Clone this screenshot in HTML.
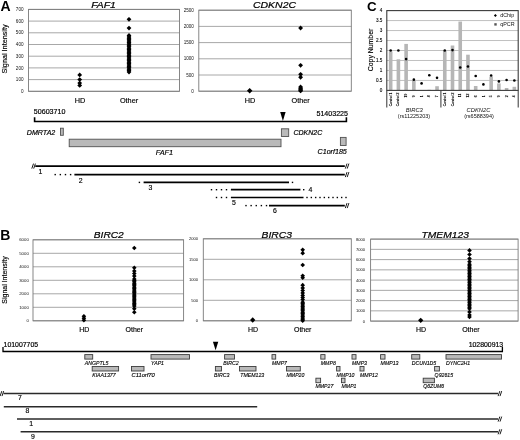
<!DOCTYPE html>
<html><head><meta charset="utf-8"><title>Figure</title>
<style>html,body{margin:0;padding:0;background:#fff}svg{display:block;filter:blur(0.4px)}</style></head>
<body>
<svg width="520" height="440" viewBox="0 0 520 440" font-family="Liberation Sans, Arial, sans-serif">
<rect width="520" height="440" fill="#fff"/>
<text x="0.6" y="11.4" font-size="14" text-anchor="start" font-weight="bold" fill="#000" >A</text>
<text x="0.3" y="240.2" font-size="14" text-anchor="start" font-weight="bold" fill="#000" >B</text>
<text x="367" y="10.7" font-size="13.4" text-anchor="start" font-weight="bold" fill="#000" >C</text>
<line x1="28.5" y1="91.30" x2="179.5" y2="91.30" stroke="#9e9e9e" stroke-width="0.9"/>
<text x="23.5" y="92.96" font-size="4.6" text-anchor="end" fill="#111" >0</text>
<line x1="28.5" y1="79.60" x2="179.5" y2="79.60" stroke="#9e9e9e" stroke-width="0.9"/>
<text x="23.5" y="81.26" font-size="4.6" text-anchor="end" fill="#111" >100</text>
<line x1="28.5" y1="67.90" x2="179.5" y2="67.90" stroke="#9e9e9e" stroke-width="0.9"/>
<text x="23.5" y="69.56" font-size="4.6" text-anchor="end" fill="#111" >200</text>
<line x1="28.5" y1="56.20" x2="179.5" y2="56.20" stroke="#9e9e9e" stroke-width="0.9"/>
<text x="23.5" y="57.86" font-size="4.6" text-anchor="end" fill="#111" >300</text>
<line x1="28.5" y1="44.50" x2="179.5" y2="44.50" stroke="#9e9e9e" stroke-width="0.9"/>
<text x="23.5" y="46.16" font-size="4.6" text-anchor="end" fill="#111" >400</text>
<line x1="28.5" y1="32.80" x2="179.5" y2="32.80" stroke="#9e9e9e" stroke-width="0.9"/>
<text x="23.5" y="34.46" font-size="4.6" text-anchor="end" fill="#111" >500</text>
<line x1="28.5" y1="21.10" x2="179.5" y2="21.10" stroke="#9e9e9e" stroke-width="0.9"/>
<text x="23.5" y="22.76" font-size="4.6" text-anchor="end" fill="#111" >600</text>
<line x1="28.5" y1="9.40" x2="179.5" y2="9.40" stroke="#9e9e9e" stroke-width="0.9"/>
<text x="23.5" y="11.06" font-size="4.6" text-anchor="end" fill="#111" >700</text>
<rect x="28.5" y="9.4" width="151.0" height="81.89999999999999" fill="none" stroke="#7a7a7a" stroke-width="0.9"/>
<text x="103.5" y="8.2" font-size="9.9" text-anchor="middle" font-style="italic" fill="#000" textLength="24.6" lengthAdjust="spacingAndGlyphs" stroke="#000" stroke-width="0.22">FAF1</text>
<text x="80" y="103" font-size="7.3" text-anchor="middle" fill="#000" stroke="#000" stroke-width="0.15">HD</text>
<text x="129" y="103" font-size="7.3" text-anchor="middle" fill="#000" stroke="#000" stroke-width="0.15">Other</text>
<path d="M77.30 74.92L79.70 72.52L82.10 74.92L79.70 77.32Z" fill="#000"/>
<path d="M77.30 79.60L79.70 77.20L82.10 79.60L79.70 82.00Z" fill="#000"/>
<path d="M77.30 83.11L79.70 80.71L82.10 83.11L79.70 85.51Z" fill="#000"/>
<path d="M77.30 85.45L79.70 83.05L82.10 85.45L79.70 87.85Z" fill="#000"/>
<path d="M126.60 19.35L129.00 16.95L131.40 19.35L129.00 21.75Z" fill="#000"/>
<path d="M126.60 28.12L129.00 25.72L131.40 28.12L129.00 30.52Z" fill="#000"/>
<path d="M126.60 72.00L129.00 69.59L131.40 72.00L129.00 74.40Z" fill="#000"/>
<path d="M126.60 70.59L129.00 68.19L131.40 70.59L129.00 72.99Z" fill="#000"/>
<path d="M126.60 69.19L129.00 66.79L131.40 69.19L129.00 71.59Z" fill="#000"/>
<path d="M126.60 67.78L129.00 65.38L131.40 67.78L129.00 70.18Z" fill="#000"/>
<path d="M126.60 66.38L129.00 63.98L131.40 66.38L129.00 68.78Z" fill="#000"/>
<path d="M126.60 64.97L129.00 62.57L131.40 64.97L129.00 67.38Z" fill="#000"/>
<path d="M126.60 63.57L129.00 61.17L131.40 63.57L129.00 65.97Z" fill="#000"/>
<path d="M126.60 62.17L129.00 59.77L131.40 62.17L129.00 64.57Z" fill="#000"/>
<path d="M126.60 60.76L129.00 58.36L131.40 60.76L129.00 63.16Z" fill="#000"/>
<path d="M126.60 59.36L129.00 56.96L131.40 59.36L129.00 61.76Z" fill="#000"/>
<path d="M126.60 57.96L129.00 55.56L131.40 57.96L129.00 60.36Z" fill="#000"/>
<path d="M126.60 56.55L129.00 54.15L131.40 56.55L129.00 58.95Z" fill="#000"/>
<path d="M126.60 55.15L129.00 52.75L131.40 55.15L129.00 57.55Z" fill="#000"/>
<path d="M126.60 53.74L129.00 51.34L131.40 53.74L129.00 56.14Z" fill="#000"/>
<path d="M126.60 52.34L129.00 49.94L131.40 52.34L129.00 54.74Z" fill="#000"/>
<path d="M126.60 50.94L129.00 48.54L131.40 50.94L129.00 53.34Z" fill="#000"/>
<path d="M126.60 49.53L129.00 47.13L131.40 49.53L129.00 51.93Z" fill="#000"/>
<path d="M126.60 48.13L129.00 45.73L131.40 48.13L129.00 50.53Z" fill="#000"/>
<path d="M126.60 46.72L129.00 44.32L131.40 46.72L129.00 49.12Z" fill="#000"/>
<path d="M126.60 45.32L129.00 42.92L131.40 45.32L129.00 47.72Z" fill="#000"/>
<path d="M126.60 43.91L129.00 41.52L131.40 43.91L129.00 46.31Z" fill="#000"/>
<path d="M126.60 42.51L129.00 40.11L131.40 42.51L129.00 44.91Z" fill="#000"/>
<path d="M126.60 41.11L129.00 38.71L131.40 41.11L129.00 43.51Z" fill="#000"/>
<path d="M126.60 39.70L129.00 37.30L131.40 39.70L129.00 42.10Z" fill="#000"/>
<path d="M126.60 38.30L129.00 35.90L131.40 38.30L129.00 40.70Z" fill="#000"/>
<path d="M126.60 36.90L129.00 34.50L131.40 36.90L129.00 39.30Z" fill="#000"/>
<path d="M126.60 35.49L129.00 33.09L131.40 35.49L129.00 37.89Z" fill="#000"/>
<text transform="translate(7.1,49) rotate(-90)" font-size="7.25" text-anchor="middle" fill="#000" stroke="#000" stroke-width="0.15">Signal Intensity</text>
<line x1="198.8" y1="91.20" x2="351.3" y2="91.20" stroke="#9e9e9e" stroke-width="0.9"/>
<text x="193.9" y="92.86" font-size="4.6" text-anchor="end" fill="#111" >0</text>
<line x1="198.8" y1="75.00" x2="351.3" y2="75.00" stroke="#9e9e9e" stroke-width="0.9"/>
<text x="193.9" y="76.66" font-size="4.6" text-anchor="end" fill="#111" >500</text>
<line x1="198.8" y1="58.80" x2="351.3" y2="58.80" stroke="#9e9e9e" stroke-width="0.9"/>
<text x="193.9" y="60.46" font-size="4.6" text-anchor="end" fill="#111" >1000</text>
<line x1="198.8" y1="42.60" x2="351.3" y2="42.60" stroke="#9e9e9e" stroke-width="0.9"/>
<text x="193.9" y="44.26" font-size="4.6" text-anchor="end" fill="#111" >1500</text>
<line x1="198.8" y1="26.40" x2="351.3" y2="26.40" stroke="#9e9e9e" stroke-width="0.9"/>
<text x="193.9" y="28.06" font-size="4.6" text-anchor="end" fill="#111" >2000</text>
<line x1="198.8" y1="10.20" x2="351.3" y2="10.20" stroke="#9e9e9e" stroke-width="0.9"/>
<text x="193.9" y="11.86" font-size="4.6" text-anchor="end" fill="#111" >2500</text>
<rect x="198.8" y="10.2" width="152.5" height="81.0" fill="none" stroke="#7a7a7a" stroke-width="0.9"/>
<text x="274.5" y="8.4" font-size="9.9" text-anchor="middle" font-style="italic" fill="#000" textLength="43" lengthAdjust="spacingAndGlyphs" stroke="#000" stroke-width="0.22">CDKN2C</text>
<text x="250" y="103.3" font-size="7.3" text-anchor="middle" fill="#000" stroke="#000" stroke-width="0.15">HD</text>
<text x="300.6" y="103.3" font-size="7.3" text-anchor="middle" fill="#000" stroke="#000" stroke-width="0.15">Other</text>
<path d="M246.95 90.71L249.70 87.96L252.45 90.71L249.70 93.46Z" fill="#000"/>
<path d="M298.20 28.02L300.60 25.62L303.00 28.02L300.60 30.42Z" fill="#000"/>
<path d="M298.20 65.28L300.60 62.88L303.00 65.28L300.60 67.68Z" fill="#000"/>
<path d="M298.20 74.35L300.60 71.95L303.00 74.35L300.60 76.75Z" fill="#000"/>
<path d="M298.20 77.27L300.60 74.87L303.00 77.27L300.60 79.67Z" fill="#000"/>
<path d="M298.20 86.99L300.60 84.59L303.00 86.99L300.60 89.39Z" fill="#000"/>
<path d="M298.20 88.28L300.60 85.88L303.00 88.28L300.60 90.68Z" fill="#000"/>
<path d="M298.20 89.26L300.60 86.86L303.00 89.26L300.60 91.66Z" fill="#000"/>
<path d="M298.20 90.23L300.60 87.83L303.00 90.23L300.60 92.63Z" fill="#000"/>
<path d="M298.20 90.88L300.60 88.48L303.00 90.88L300.60 93.28Z" fill="#000"/>
<line x1="33" y1="320.80" x2="183.6" y2="320.80" stroke="#9e9e9e" stroke-width="0.9"/>
<text x="28.8" y="322.35" font-size="4.3" text-anchor="end" fill="#111" >0</text>
<line x1="33" y1="307.30" x2="183.6" y2="307.30" stroke="#9e9e9e" stroke-width="0.9"/>
<text x="28.8" y="308.85" font-size="4.3" text-anchor="end" fill="#111" >1000</text>
<line x1="33" y1="293.80" x2="183.6" y2="293.80" stroke="#9e9e9e" stroke-width="0.9"/>
<text x="28.8" y="295.35" font-size="4.3" text-anchor="end" fill="#111" >2000</text>
<line x1="33" y1="280.30" x2="183.6" y2="280.30" stroke="#9e9e9e" stroke-width="0.9"/>
<text x="28.8" y="281.85" font-size="4.3" text-anchor="end" fill="#111" >3000</text>
<line x1="33" y1="266.80" x2="183.6" y2="266.80" stroke="#9e9e9e" stroke-width="0.9"/>
<text x="28.8" y="268.35" font-size="4.3" text-anchor="end" fill="#111" >4000</text>
<line x1="33" y1="253.30" x2="183.6" y2="253.30" stroke="#9e9e9e" stroke-width="0.9"/>
<text x="28.8" y="254.85" font-size="4.3" text-anchor="end" fill="#111" >5000</text>
<line x1="33" y1="239.80" x2="183.6" y2="239.80" stroke="#9e9e9e" stroke-width="0.9"/>
<text x="28.8" y="241.35" font-size="4.3" text-anchor="end" fill="#111" >6000</text>
<rect x="33" y="239.8" width="150.6" height="81.0" fill="none" stroke="#7a7a7a" stroke-width="0.9"/>
<text x="108.8" y="238" font-size="9.9" text-anchor="middle" font-style="italic" fill="#000" textLength="30" lengthAdjust="spacingAndGlyphs" stroke="#000" stroke-width="0.22">BIRC2</text>
<text x="84.2" y="332.3" font-size="7" text-anchor="middle" fill="#000" stroke="#000" stroke-width="0.15">HD</text>
<text x="134.3" y="332.3" font-size="7" text-anchor="middle" fill="#000" stroke="#000" stroke-width="0.15">Other</text>
<path d="M81.60 316.35L83.90 314.05L86.20 316.35L83.90 318.65Z" fill="#000"/>
<path d="M81.60 318.37L83.90 316.07L86.20 318.37L83.90 320.67Z" fill="#000"/>
<path d="M81.60 320.26L83.90 317.96L86.20 320.26L83.90 322.56Z" fill="#000"/>
<path d="M132.00 248.04L134.30 245.74L136.60 248.04L134.30 250.34Z" fill="#000"/>
<path d="M132.00 267.80L134.30 265.50L136.60 267.80L134.30 270.10Z" fill="#000"/>
<path d="M132.00 270.99L134.30 268.69L136.60 270.99L134.30 273.29Z" fill="#000"/>
<path d="M132.00 273.55L134.30 271.25L136.60 273.55L134.30 275.85Z" fill="#000"/>
<path d="M132.00 276.12L134.30 273.81L136.60 276.12L134.30 278.42Z" fill="#000"/>
<path d="M132.00 306.09L134.30 303.79L136.60 306.09L134.30 308.39Z" fill="#000"/>
<path d="M132.00 304.74L134.30 302.44L136.60 304.74L134.30 307.04Z" fill="#000"/>
<path d="M132.00 303.38L134.30 301.08L136.60 303.38L134.30 305.69Z" fill="#000"/>
<path d="M132.00 302.04L134.30 299.74L136.60 302.04L134.30 304.34Z" fill="#000"/>
<path d="M132.00 300.69L134.30 298.38L136.60 300.69L134.30 302.99Z" fill="#000"/>
<path d="M132.00 299.34L134.30 297.04L136.60 299.34L134.30 301.64Z" fill="#000"/>
<path d="M132.00 297.99L134.30 295.69L136.60 297.99L134.30 300.29Z" fill="#000"/>
<path d="M132.00 296.63L134.30 294.33L136.60 296.63L134.30 298.94Z" fill="#000"/>
<path d="M132.00 295.29L134.30 292.99L136.60 295.29L134.30 297.59Z" fill="#000"/>
<path d="M132.00 293.94L134.30 291.63L136.60 293.94L134.30 296.24Z" fill="#000"/>
<path d="M132.00 292.59L134.30 290.29L136.60 292.59L134.30 294.89Z" fill="#000"/>
<path d="M132.00 291.24L134.30 288.94L136.60 291.24L134.30 293.54Z" fill="#000"/>
<path d="M132.00 289.88L134.30 287.58L136.60 289.88L134.30 292.19Z" fill="#000"/>
<path d="M132.00 288.54L134.30 286.24L136.60 288.54L134.30 290.84Z" fill="#000"/>
<path d="M132.00 287.19L134.30 284.88L136.60 287.19L134.30 289.49Z" fill="#000"/>
<path d="M132.00 285.84L134.30 283.54L136.60 285.84L134.30 288.14Z" fill="#000"/>
<path d="M132.00 284.49L134.30 282.19L136.60 284.49L134.30 286.79Z" fill="#000"/>
<path d="M132.00 283.13L134.30 280.83L136.60 283.13L134.30 285.44Z" fill="#000"/>
<path d="M132.00 281.79L134.30 279.49L136.60 281.79L134.30 284.09Z" fill="#000"/>
<path d="M132.00 280.44L134.30 278.13L136.60 280.44L134.30 282.74Z" fill="#000"/>
<path d="M132.00 279.09L134.30 276.79L136.60 279.09L134.30 281.39Z" fill="#000"/>
<path d="M132.00 308.65L134.30 306.35L136.60 308.65L134.30 310.95Z" fill="#000"/>
<path d="M132.00 312.30L134.30 310.00L136.60 312.30L134.30 314.60Z" fill="#000"/>
<text transform="translate(6.9,280) rotate(-90)" font-size="7.0" text-anchor="middle" fill="#000" stroke="#000" stroke-width="0.15">Signal Intensity</text>
<line x1="203.3" y1="320.80" x2="351.3" y2="320.80" stroke="#9e9e9e" stroke-width="0.9"/>
<text x="198" y="322.28" font-size="4.1" text-anchor="end" fill="#111" >0</text>
<line x1="203.3" y1="300.30" x2="351.3" y2="300.30" stroke="#9e9e9e" stroke-width="0.9"/>
<text x="198" y="301.78" font-size="4.1" text-anchor="end" fill="#111" >500</text>
<line x1="203.3" y1="279.80" x2="351.3" y2="279.80" stroke="#9e9e9e" stroke-width="0.9"/>
<text x="198" y="281.28" font-size="4.1" text-anchor="end" fill="#111" >1000</text>
<line x1="203.3" y1="259.30" x2="351.3" y2="259.30" stroke="#9e9e9e" stroke-width="0.9"/>
<text x="198" y="260.78" font-size="4.1" text-anchor="end" fill="#111" >1500</text>
<line x1="203.3" y1="238.80" x2="351.3" y2="238.80" stroke="#9e9e9e" stroke-width="0.9"/>
<text x="198" y="240.28" font-size="4.1" text-anchor="end" fill="#111" >2000</text>
<rect x="203.3" y="238.8" width="148.0" height="82.0" fill="none" stroke="#7a7a7a" stroke-width="0.9"/>
<text x="276.8" y="238" font-size="9.9" text-anchor="middle" font-style="italic" fill="#000" textLength="30.5" lengthAdjust="spacingAndGlyphs" stroke="#000" stroke-width="0.22">BIRC3</text>
<text x="253" y="332.3" font-size="7" text-anchor="middle" fill="#000" stroke="#000" stroke-width="0.15">HD</text>
<text x="302.7" y="332.3" font-size="7" text-anchor="middle" fill="#000" stroke="#000" stroke-width="0.15">Other</text>
<path d="M250.05 319.98L252.70 317.33L255.35 319.98L252.70 322.63Z" fill="#000"/>
<path d="M300.40 249.87L302.70 247.57L305.00 249.87L302.70 252.17Z" fill="#000"/>
<path d="M300.40 253.15L302.70 250.85L305.00 253.15L302.70 255.45Z" fill="#000"/>
<path d="M300.40 265.04L302.70 262.74L305.00 265.04L302.70 267.34Z" fill="#000"/>
<path d="M300.40 275.70L302.70 273.40L305.00 275.70L302.70 278.00Z" fill="#000"/>
<path d="M300.40 277.75L302.70 275.45L305.00 277.75L302.70 280.05Z" fill="#000"/>
<path d="M300.40 285.13L302.70 282.83L305.00 285.13L302.70 287.43Z" fill="#000"/>
<path d="M300.40 288.00L302.70 285.70L305.00 288.00L302.70 290.30Z" fill="#000"/>
<path d="M300.40 290.46L302.70 288.16L305.00 290.46L302.70 292.76Z" fill="#000"/>
<path d="M300.40 292.92L302.70 290.62L305.00 292.92L302.70 295.22Z" fill="#000"/>
<path d="M300.40 295.38L302.70 293.08L305.00 295.38L302.70 297.68Z" fill="#000"/>
<path d="M300.40 297.43L302.70 295.13L305.00 297.43L302.70 299.73Z" fill="#000"/>
<path d="M300.40 299.48L302.70 297.18L305.00 299.48L302.70 301.78Z" fill="#000"/>
<path d="M300.40 320.80L302.70 318.50L305.00 320.80L302.70 323.10Z" fill="#000"/>
<path d="M300.40 319.37L302.70 317.06L305.00 319.37L302.70 321.67Z" fill="#000"/>
<path d="M300.40 317.93L302.70 315.63L305.00 317.93L302.70 320.23Z" fill="#000"/>
<path d="M300.40 316.50L302.70 314.19L305.00 316.50L302.70 318.80Z" fill="#000"/>
<path d="M300.40 315.06L302.70 312.76L305.00 315.06L302.70 317.36Z" fill="#000"/>
<path d="M300.40 313.62L302.70 311.32L305.00 313.62L302.70 315.93Z" fill="#000"/>
<path d="M300.40 312.19L302.70 309.89L305.00 312.19L302.70 314.49Z" fill="#000"/>
<path d="M300.40 310.75L302.70 308.45L305.00 310.75L302.70 313.06Z" fill="#000"/>
<path d="M300.40 309.32L302.70 307.02L305.00 309.32L302.70 311.62Z" fill="#000"/>
<path d="M300.40 307.88L302.70 305.58L305.00 307.88L302.70 310.19Z" fill="#000"/>
<path d="M300.40 306.45L302.70 304.15L305.00 306.45L302.70 308.75Z" fill="#000"/>
<path d="M300.40 305.01L302.70 302.71L305.00 305.01L302.70 307.31Z" fill="#000"/>
<path d="M300.40 303.58L302.70 301.28L305.00 303.58L302.70 305.88Z" fill="#000"/>
<path d="M300.40 302.14L302.70 299.84L305.00 302.14L302.70 304.44Z" fill="#000"/>
<line x1="370.6" y1="321.10" x2="518.1" y2="321.10" stroke="#9e9e9e" stroke-width="0.9"/>
<text x="365" y="322.58" font-size="4.1" text-anchor="end" fill="#111" >0</text>
<line x1="370.6" y1="310.85" x2="518.1" y2="310.85" stroke="#9e9e9e" stroke-width="0.9"/>
<text x="365" y="312.33" font-size="4.1" text-anchor="end" fill="#111" >1000</text>
<line x1="370.6" y1="300.60" x2="518.1" y2="300.60" stroke="#9e9e9e" stroke-width="0.9"/>
<text x="365" y="302.08" font-size="4.1" text-anchor="end" fill="#111" >2000</text>
<line x1="370.6" y1="290.35" x2="518.1" y2="290.35" stroke="#9e9e9e" stroke-width="0.9"/>
<text x="365" y="291.83" font-size="4.1" text-anchor="end" fill="#111" >3000</text>
<line x1="370.6" y1="280.10" x2="518.1" y2="280.10" stroke="#9e9e9e" stroke-width="0.9"/>
<text x="365" y="281.58" font-size="4.1" text-anchor="end" fill="#111" >4000</text>
<line x1="370.6" y1="269.85" x2="518.1" y2="269.85" stroke="#9e9e9e" stroke-width="0.9"/>
<text x="365" y="271.33" font-size="4.1" text-anchor="end" fill="#111" >5000</text>
<line x1="370.6" y1="259.60" x2="518.1" y2="259.60" stroke="#9e9e9e" stroke-width="0.9"/>
<text x="365" y="261.08" font-size="4.1" text-anchor="end" fill="#111" >6000</text>
<line x1="370.6" y1="249.35" x2="518.1" y2="249.35" stroke="#9e9e9e" stroke-width="0.9"/>
<text x="365" y="250.83" font-size="4.1" text-anchor="end" fill="#111" >7000</text>
<line x1="370.6" y1="239.10" x2="518.1" y2="239.10" stroke="#9e9e9e" stroke-width="0.9"/>
<text x="365" y="240.58" font-size="4.1" text-anchor="end" fill="#111" >8000</text>
<rect x="370.6" y="239.1" width="147.5" height="82.00000000000003" fill="none" stroke="#7a7a7a" stroke-width="0.9"/>
<text x="445.2" y="238" font-size="9.9" text-anchor="middle" font-style="italic" fill="#000" textLength="47.3" lengthAdjust="spacingAndGlyphs" stroke="#000" stroke-width="0.22">TMEM123</text>
<text x="421" y="332.3" font-size="7" text-anchor="middle" fill="#000" stroke="#000" stroke-width="0.15">HD</text>
<text x="470.9" y="332.3" font-size="7" text-anchor="middle" fill="#000" stroke="#000" stroke-width="0.15">Other</text>
<path d="M418.05 320.28L420.70 317.63L423.35 320.28L420.70 322.93Z" fill="#000"/>
<path d="M467.20 250.38L469.50 248.07L471.80 250.38L469.50 252.68Z" fill="#000"/>
<path d="M467.20 254.47L469.50 252.17L471.80 254.47L469.50 256.77Z" fill="#000"/>
<path d="M467.20 258.57L469.50 256.27L471.80 258.57L469.50 260.88Z" fill="#000"/>
<path d="M467.20 261.65L469.50 259.35L471.80 261.65L469.50 263.95Z" fill="#000"/>
<path d="M467.20 308.80L469.50 306.50L471.80 308.80L469.50 311.10Z" fill="#000"/>
<path d="M467.20 307.26L469.50 304.96L471.80 307.26L469.50 309.56Z" fill="#000"/>
<path d="M467.20 305.73L469.50 303.43L471.80 305.73L469.50 308.03Z" fill="#000"/>
<path d="M467.20 304.19L469.50 301.89L471.80 304.19L469.50 306.49Z" fill="#000"/>
<path d="M467.20 302.65L469.50 300.35L471.80 302.65L469.50 304.95Z" fill="#000"/>
<path d="M467.20 301.11L469.50 298.81L471.80 301.11L469.50 303.41Z" fill="#000"/>
<path d="M467.20 299.58L469.50 297.28L471.80 299.58L469.50 301.88Z" fill="#000"/>
<path d="M467.20 298.04L469.50 295.74L471.80 298.04L469.50 300.34Z" fill="#000"/>
<path d="M467.20 296.50L469.50 294.20L471.80 296.50L469.50 298.80Z" fill="#000"/>
<path d="M467.20 294.96L469.50 292.66L471.80 294.96L469.50 297.26Z" fill="#000"/>
<path d="M467.20 293.43L469.50 291.12L471.80 293.43L469.50 295.73Z" fill="#000"/>
<path d="M467.20 291.89L469.50 289.59L471.80 291.89L469.50 294.19Z" fill="#000"/>
<path d="M467.20 290.35L469.50 288.05L471.80 290.35L469.50 292.65Z" fill="#000"/>
<path d="M467.20 288.81L469.50 286.51L471.80 288.81L469.50 291.11Z" fill="#000"/>
<path d="M467.20 287.27L469.50 284.97L471.80 287.27L469.50 289.57Z" fill="#000"/>
<path d="M467.20 285.74L469.50 283.44L471.80 285.74L469.50 288.04Z" fill="#000"/>
<path d="M467.20 284.20L469.50 281.90L471.80 284.20L469.50 286.50Z" fill="#000"/>
<path d="M467.20 282.66L469.50 280.36L471.80 282.66L469.50 284.96Z" fill="#000"/>
<path d="M467.20 281.12L469.50 278.82L471.80 281.12L469.50 283.43Z" fill="#000"/>
<path d="M467.20 279.59L469.50 277.29L471.80 279.59L469.50 281.89Z" fill="#000"/>
<path d="M467.20 278.05L469.50 275.75L471.80 278.05L469.50 280.35Z" fill="#000"/>
<path d="M467.20 276.51L469.50 274.21L471.80 276.51L469.50 278.81Z" fill="#000"/>
<path d="M467.20 274.98L469.50 272.68L471.80 274.98L469.50 277.28Z" fill="#000"/>
<path d="M467.20 273.44L469.50 271.14L471.80 273.44L469.50 275.74Z" fill="#000"/>
<path d="M467.20 271.90L469.50 269.60L471.80 271.90L469.50 274.20Z" fill="#000"/>
<path d="M467.20 270.36L469.50 268.06L471.80 270.36L469.50 272.66Z" fill="#000"/>
<path d="M467.20 268.82L469.50 266.52L471.80 268.82L469.50 271.12Z" fill="#000"/>
<path d="M467.20 267.29L469.50 264.99L471.80 267.29L469.50 269.59Z" fill="#000"/>
<path d="M467.20 265.75L469.50 263.45L471.80 265.75L469.50 268.05Z" fill="#000"/>
<path d="M467.20 264.21L469.50 261.91L471.80 264.21L469.50 266.51Z" fill="#000"/>
<path d="M467.20 311.88L469.50 309.57L471.80 311.88L469.50 314.18Z" fill="#000"/>
<path d="M467.20 314.95L469.50 312.65L471.80 314.95L469.50 317.25Z" fill="#000"/>
<path d="M467.20 317.00L469.50 314.70L471.80 317.00L469.50 319.30Z" fill="#000"/>
<line x1="386.8" y1="80.43" x2="518.2" y2="80.43" stroke="#c0c0c0" stroke-width="1"/>
<line x1="386.8" y1="70.45" x2="518.2" y2="70.45" stroke="#c0c0c0" stroke-width="1"/>
<line x1="386.8" y1="60.48" x2="518.2" y2="60.48" stroke="#c0c0c0" stroke-width="1"/>
<line x1="386.8" y1="50.50" x2="518.2" y2="50.50" stroke="#c0c0c0" stroke-width="1"/>
<line x1="386.8" y1="40.52" x2="518.2" y2="40.52" stroke="#c0c0c0" stroke-width="1"/>
<line x1="386.8" y1="30.55" x2="518.2" y2="30.55" stroke="#c0c0c0" stroke-width="1"/>
<line x1="386.8" y1="20.57" x2="518.2" y2="20.57" stroke="#c0c0c0" stroke-width="1"/>
<text x="382.3" y="92.0" font-size="4.6" text-anchor="end" fill="#000" stroke="#000" stroke-width="0.1">0</text>
<text x="382.3" y="82.03" font-size="4.6" text-anchor="end" fill="#000" stroke="#000" stroke-width="0.1">0.5</text>
<text x="382.3" y="72.05" font-size="4.6" text-anchor="end" fill="#000" stroke="#000" stroke-width="0.1">1</text>
<text x="382.3" y="62.08" font-size="4.6" text-anchor="end" fill="#000" stroke="#000" stroke-width="0.1">1.5</text>
<text x="382.3" y="52.1" font-size="4.6" text-anchor="end" fill="#000" stroke="#000" stroke-width="0.1">2</text>
<text x="382.3" y="42.12" font-size="4.6" text-anchor="end" fill="#000" stroke="#000" stroke-width="0.1">2.5</text>
<text x="382.3" y="32.15" font-size="4.6" text-anchor="end" fill="#000" stroke="#000" stroke-width="0.1">3</text>
<text x="382.3" y="22.17" font-size="4.6" text-anchor="end" fill="#000" stroke="#000" stroke-width="0.1">3.5</text>
<text x="382.3" y="12.2" font-size="4.6" text-anchor="end" fill="#000" stroke="#000" stroke-width="0.1">4</text>
<text transform="translate(373,50) rotate(-90)" font-size="6.9" text-anchor="middle" fill="#000" stroke="#000" stroke-width="0.15">Copy Number</text>
<rect x="388.86" y="51.50" width="3.6" height="38.90" fill="#b6b6b6"/>
<rect x="396.59" y="59.28" width="3.6" height="31.12" fill="#b6b6b6"/>
<rect x="404.32" y="43.92" width="3.6" height="46.48" fill="#b6b6b6"/>
<rect x="412.05" y="79.83" width="3.6" height="10.57" fill="#b6b6b6"/>
<rect x="427.51" y="89.80" width="3.6" height="0.60" fill="#b6b6b6"/>
<rect x="435.24" y="86.21" width="3.6" height="4.19" fill="#b6b6b6"/>
<rect x="442.97" y="50.50" width="3.6" height="39.90" fill="#b6b6b6"/>
<rect x="450.70" y="45.51" width="3.6" height="44.89" fill="#b6b6b6"/>
<rect x="458.43" y="21.57" width="3.6" height="68.83" fill="#b6b6b6"/>
<rect x="466.16" y="54.69" width="3.6" height="35.71" fill="#b6b6b6"/>
<rect x="473.89" y="86.01" width="3.6" height="4.39" fill="#b6b6b6"/>
<rect x="481.62" y="90.00" width="3.6" height="0.40" fill="#b6b6b6"/>
<rect x="489.35" y="76.44" width="3.6" height="13.97" fill="#b6b6b6"/>
<rect x="497.08" y="83.42" width="3.6" height="6.98" fill="#b6b6b6"/>
<rect x="504.81" y="88.01" width="3.6" height="2.39" fill="#b6b6b6"/>
<rect x="512.54" y="86.81" width="3.6" height="3.59" fill="#b6b6b6"/>
<circle cx="390.66" cy="50.50" r="1.3" fill="#000"/>
<text transform="translate(391.76,92.5) rotate(-90)" font-size="3.4" text-anchor="end" fill="#000" stroke="#000" stroke-width="0.15">Control 1</text>
<circle cx="398.39" cy="50.50" r="1.3" fill="#000"/>
<text transform="translate(399.49,92.5) rotate(-90)" font-size="3.4" text-anchor="end" fill="#000" stroke="#000" stroke-width="0.15">Control 2</text>
<circle cx="406.12" cy="59.08" r="1.3" fill="#000"/>
<text transform="translate(407.22,93.60000000000001) rotate(-90)" font-size="3.4" text-anchor="end" fill="#000" stroke="#000" stroke-width="0.15">19</text>
<circle cx="413.85" cy="79.63" r="1.3" fill="#000"/>
<text transform="translate(414.95,95.4) rotate(-90)" font-size="3.4" text-anchor="end" fill="#000" stroke="#000" stroke-width="0.15">9</text>
<circle cx="421.58" cy="83.42" r="1.3" fill="#000"/>
<text transform="translate(422.68,95.4) rotate(-90)" font-size="3.4" text-anchor="end" fill="#000" stroke="#000" stroke-width="0.15">1</text>
<circle cx="429.31" cy="75.24" r="1.3" fill="#000"/>
<text transform="translate(430.41,95.4) rotate(-90)" font-size="3.4" text-anchor="end" fill="#000" stroke="#000" stroke-width="0.15">8</text>
<circle cx="437.04" cy="77.83" r="1.3" fill="#000"/>
<text transform="translate(438.14,95.4) rotate(-90)" font-size="3.4" text-anchor="end" fill="#000" stroke="#000" stroke-width="0.15">7</text>
<circle cx="444.77" cy="50.50" r="1.3" fill="#000"/>
<text transform="translate(445.87,92.5) rotate(-90)" font-size="3.4" text-anchor="end" fill="#000" stroke="#000" stroke-width="0.15">Control 1</text>
<circle cx="452.50" cy="50.10" r="1.3" fill="#000"/>
<text transform="translate(453.60,92.5) rotate(-90)" font-size="3.4" text-anchor="end" fill="#000" stroke="#000" stroke-width="0.15">Control 2</text>
<circle cx="460.23" cy="67.46" r="1.3" fill="#000"/>
<text transform="translate(461.33,93.60000000000001) rotate(-90)" font-size="3.4" text-anchor="end" fill="#000" stroke="#000" stroke-width="0.15">11</text>
<circle cx="467.96" cy="66.46" r="1.3" fill="#000"/>
<text transform="translate(469.06,93.60000000000001) rotate(-90)" font-size="3.4" text-anchor="end" fill="#000" stroke="#000" stroke-width="0.15">12</text>
<circle cx="475.69" cy="76.04" r="1.3" fill="#000"/>
<text transform="translate(476.79,95.4) rotate(-90)" font-size="3.4" text-anchor="end" fill="#000" stroke="#000" stroke-width="0.15">6</text>
<circle cx="483.42" cy="84.42" r="1.3" fill="#000"/>
<text transform="translate(484.52,95.4) rotate(-90)" font-size="3.4" text-anchor="end" fill="#000" stroke="#000" stroke-width="0.15">1</text>
<circle cx="491.15" cy="75.44" r="1.3" fill="#000"/>
<text transform="translate(492.25,95.4) rotate(-90)" font-size="3.4" text-anchor="end" fill="#000" stroke="#000" stroke-width="0.15">5</text>
<circle cx="498.88" cy="81.42" r="1.3" fill="#000"/>
<text transform="translate(499.98,95.4) rotate(-90)" font-size="3.4" text-anchor="end" fill="#000" stroke="#000" stroke-width="0.15">9</text>
<circle cx="506.61" cy="80.03" r="1.3" fill="#000"/>
<text transform="translate(507.71,95.4) rotate(-90)" font-size="3.4" text-anchor="end" fill="#000" stroke="#000" stroke-width="0.15">2</text>
<circle cx="514.34" cy="80.43" r="1.3" fill="#000"/>
<text transform="translate(515.44,95.4) rotate(-90)" font-size="3.4" text-anchor="end" fill="#000" stroke="#000" stroke-width="0.15">4</text>
<line x1="386.80" y1="90.4" x2="386.80" y2="107.5" stroke="#333" stroke-width="1"/>
<line x1="440.91" y1="90.4" x2="440.91" y2="107.5" stroke="#333" stroke-width="1"/>
<line x1="518.20" y1="90.4" x2="518.20" y2="107.5" stroke="#333" stroke-width="1"/>
<rect x="386.8" y="10.6" width="131.40000000000003" height="79.80000000000001" fill="none" stroke="#3a3a3a" stroke-width="1.1"/>
<path d="M493.90 15.40L495.40 13.90L496.90 15.40L495.40 16.90Z" fill="#000"/>
<text x="500.2" y="17.4" font-size="5.4" text-anchor="start" fill="#111" >dChip</text>
<rect x="494.3" y="23.2" width="2.4" height="2.4" fill="#555"/>
<text x="500.2" y="26.2" font-size="5.4" text-anchor="start" fill="#111" >qPCR</text>
<text x="414.3" y="111.8" font-size="5.8" text-anchor="middle" font-style="italic" fill="#111" >BIRC3</text>
<text x="414" y="117.6" font-size="5.5" text-anchor="middle" fill="#111" >(rs11225203)</text>
<text x="478.5" y="111.8" font-size="5.8" text-anchor="middle" font-style="italic" fill="#111" >CDKN2C</text>
<text x="479" y="117.6" font-size="5.5" text-anchor="middle" fill="#111" >(rs6588394)</text>
<text x="33.8" y="114.3" font-size="7.1" text-anchor="start" fill="#000" stroke="#000" stroke-width="0.18">50603710</text>
<text x="348" y="116.2" font-size="7.1" text-anchor="end" fill="#000" stroke="#000" stroke-width="0.18">51403225</text>
<path d="M34.6 117.2V121.5H346.4V117.2" fill="none" stroke="#000" stroke-width="1.6"/>
<path d="M280.2 112H285.6L282.9 121Z" fill="#000"/>
<rect x="60.5" y="128.2" width="2.8" height="7.1" fill="#b9b9b9" stroke="#505050" stroke-width="0.9"/>
<text x="26.8" y="135.3" font-size="7.1" text-anchor="start" font-style="italic" fill="#000" stroke="#000" stroke-width="0.18">DMRTA2</text>
<rect x="69.2" y="139.2" width="211.8" height="7.5" fill="#b9b9b9" stroke="#505050" stroke-width="0.9"/>
<text x="164.4" y="155.3" font-size="7.3" text-anchor="middle" font-style="italic" fill="#000" stroke="#000" stroke-width="0.18">FAF1</text>
<rect x="281.4" y="128.8" width="7.3" height="7.7" fill="#b9b9b9" stroke="#505050" stroke-width="0.9"/>
<text x="293.4" y="135.3" font-size="7.05" text-anchor="start" font-style="italic" fill="#000" stroke="#000" stroke-width="0.18">CDKN2C</text>
<rect x="340.4" y="137.4" width="5.7" height="8.1" fill="#b9b9b9" stroke="#505050" stroke-width="0.9"/>
<text x="346.8" y="154.3" font-size="7.1" text-anchor="end" font-style="italic" fill="#000" stroke="#000" stroke-width="0.18">C1orf185</text>
<line x1="35.3" y1="166.1" x2="344.8" y2="166.1" stroke="#000" stroke-width="1.7"/>
<path d="M31.8 168.6L33.5 163.6M33.7 168.6L35.4 163.6" stroke="#000" stroke-width="0.9" fill="none"/>
<path d="M345.3 168.6L347.0 163.6M347.2 168.6L348.9 163.6" stroke="#000" stroke-width="0.9" fill="none"/>
<text x="40.5" y="174.2" font-size="6.9" text-anchor="middle" fill="#000" stroke="#000" stroke-width="0.15">1</text>
<rect x="54.50" y="173.9" width="1.4" height="1.4" fill="#000"/>
<rect x="59.63" y="173.9" width="1.4" height="1.4" fill="#000"/>
<rect x="64.77" y="173.9" width="1.4" height="1.4" fill="#000"/>
<rect x="69.90" y="173.9" width="1.4" height="1.4" fill="#000"/>
<line x1="74.4" y1="174.6" x2="344.8" y2="174.6" stroke="#000" stroke-width="1.7"/>
<path d="M345.3 177.1L347.0 172.1M347.2 177.1L348.9 172.1" stroke="#000" stroke-width="0.9" fill="none"/>
<text x="80.6" y="182.5" font-size="6.9" text-anchor="middle" fill="#000" stroke="#000" stroke-width="0.15">2</text>
<rect x="138.70" y="181.70000000000002" width="1.4" height="1.4" fill="#000"/>
<line x1="143.6" y1="182.4" x2="289" y2="182.4" stroke="#000" stroke-width="1.7"/>
<rect x="291.80" y="181.70000000000002" width="1.4" height="1.4" fill="#000"/>
<text x="150.5" y="189.9" font-size="6.9" text-anchor="middle" fill="#000" stroke="#000" stroke-width="0.15">3</text>
<rect x="210.80" y="189.0" width="1.4" height="1.4" fill="#000"/>
<rect x="215.80" y="189.0" width="1.4" height="1.4" fill="#000"/>
<rect x="220.80" y="189.0" width="1.4" height="1.4" fill="#000"/>
<rect x="225.80" y="189.0" width="1.4" height="1.4" fill="#000"/>
<line x1="230.9" y1="189.7" x2="300.4" y2="189.7" stroke="#000" stroke-width="1.7"/>
<rect x="303.00" y="189.0" width="1.4" height="1.4" fill="#000"/>
<text x="310.4" y="192.1" font-size="6.9" text-anchor="middle" fill="#000" stroke="#000" stroke-width="0.15">4</text>
<rect x="215.80" y="196.8" width="1.4" height="1.4" fill="#000"/>
<rect x="220.80" y="196.8" width="1.4" height="1.4" fill="#000"/>
<rect x="225.80" y="196.8" width="1.4" height="1.4" fill="#000"/>
<line x1="230.9" y1="197.5" x2="303.5" y2="197.5" stroke="#000" stroke-width="1.7"/>
<rect x="306.30" y="196.8" width="1.4" height="1.4" fill="#000"/>
<rect x="310.63" y="196.8" width="1.4" height="1.4" fill="#000"/>
<rect x="314.97" y="196.8" width="1.4" height="1.4" fill="#000"/>
<rect x="319.30" y="196.8" width="1.4" height="1.4" fill="#000"/>
<rect x="323.63" y="196.8" width="1.4" height="1.4" fill="#000"/>
<rect x="327.97" y="196.8" width="1.4" height="1.4" fill="#000"/>
<rect x="332.30" y="196.8" width="1.4" height="1.4" fill="#000"/>
<rect x="336.63" y="196.8" width="1.4" height="1.4" fill="#000"/>
<rect x="340.97" y="196.8" width="1.4" height="1.4" fill="#000"/>
<rect x="345.30" y="196.8" width="1.4" height="1.4" fill="#000"/>
<text x="233.8" y="205.3" font-size="6.9" text-anchor="middle" fill="#000" stroke="#000" stroke-width="0.15">5</text>
<rect x="245.30" y="204.9" width="1.4" height="1.4" fill="#000"/>
<rect x="250.43" y="204.9" width="1.4" height="1.4" fill="#000"/>
<rect x="255.55" y="204.9" width="1.4" height="1.4" fill="#000"/>
<rect x="260.68" y="204.9" width="1.4" height="1.4" fill="#000"/>
<rect x="265.80" y="204.9" width="1.4" height="1.4" fill="#000"/>
<line x1="269" y1="205.6" x2="344.8" y2="205.6" stroke="#000" stroke-width="1.7"/>
<path d="M345.3 208.1L347.0 203.1M347.2 208.1L348.9 203.1" stroke="#000" stroke-width="0.9" fill="none"/>
<text x="275" y="213.3" font-size="6.9" text-anchor="middle" fill="#000" stroke="#000" stroke-width="0.15">6</text>
<text x="3.6" y="346.5" font-size="6.9" text-anchor="start" fill="#000" stroke="#000" stroke-width="0.18">101007705</text>
<text x="503.2" y="346.6" font-size="6.9" text-anchor="end" fill="#000" stroke="#000" stroke-width="0.18">102800913</text>
<path d="M3 347V351.5H502.4V347" fill="none" stroke="#000" stroke-width="1.3"/>
<path d="M212.9 341.7H218.3L215.6 350.2Z" fill="#000"/>
<rect x="84.8" y="354.6" width="7.9" height="4.5" fill="#b9b9b9" stroke="#3c3c3c" stroke-width="0.9"/>
<text x="84.8" y="365.3" font-size="5.2" text-anchor="start" font-style="italic" fill="#000" stroke="#000" stroke-width="0.12">ANGPTL5</text>
<rect x="151" y="354.6" width="38.5" height="4.5" fill="#b9b9b9" stroke="#3c3c3c" stroke-width="0.9"/>
<text x="151" y="365.3" font-size="5.2" text-anchor="start" font-style="italic" fill="#000" stroke="#000" stroke-width="0.12">YAP1</text>
<rect x="224.6" y="354.6" width="9.9" height="4.5" fill="#b9b9b9" stroke="#3c3c3c" stroke-width="0.9"/>
<text x="223.3" y="365.3" font-size="5.2" text-anchor="start" font-style="italic" fill="#000" stroke="#000" stroke-width="0.12">BIRC2</text>
<rect x="272" y="354.6" width="3.7" height="4.5" fill="#c6c6c6" stroke="#3c3c3c" stroke-width="0.9"/>
<text x="272" y="365.3" font-size="5.2" text-anchor="start" font-style="italic" fill="#000" stroke="#000" stroke-width="0.12">MMP7</text>
<rect x="320.8" y="354.6" width="4.2" height="4.5" fill="#c6c6c6" stroke="#3c3c3c" stroke-width="0.9"/>
<text x="320.8" y="365.3" font-size="5.2" text-anchor="start" font-style="italic" fill="#000" stroke="#000" stroke-width="0.12">MMP8</text>
<rect x="352" y="354.6" width="4" height="4.5" fill="#c6c6c6" stroke="#3c3c3c" stroke-width="0.9"/>
<text x="352" y="365.3" font-size="5.2" text-anchor="start" font-style="italic" fill="#000" stroke="#000" stroke-width="0.12">MMP3</text>
<rect x="380.6" y="354.6" width="4.4" height="4.5" fill="#c6c6c6" stroke="#3c3c3c" stroke-width="0.9"/>
<text x="380.6" y="365.3" font-size="5.2" text-anchor="start" font-style="italic" fill="#000" stroke="#000" stroke-width="0.12">MMP13</text>
<rect x="411.7" y="354.6" width="8.1" height="4.5" fill="#b9b9b9" stroke="#3c3c3c" stroke-width="0.9"/>
<text x="411.7" y="365.3" font-size="5.2" text-anchor="start" font-style="italic" fill="#000" stroke="#000" stroke-width="0.12">DCUN1D5</text>
<rect x="446" y="354.6" width="55.5" height="4.5" fill="#b9b9b9" stroke="#3c3c3c" stroke-width="0.9"/>
<text x="446" y="365.3" font-size="5.2" text-anchor="start" font-style="italic" fill="#000" stroke="#000" stroke-width="0.12">DYNC2H1</text>
<rect x="92.2" y="366.5" width="26.4" height="4.5" fill="#b9b9b9" stroke="#3c3c3c" stroke-width="0.9"/>
<text x="92.2" y="376.9" font-size="5.2" text-anchor="start" font-style="italic" fill="#000" stroke="#000" stroke-width="0.12">KIAA1377</text>
<rect x="131.5" y="366.5" width="12.5" height="4.5" fill="#b9b9b9" stroke="#3c3c3c" stroke-width="0.9"/>
<text x="131.5" y="376.9" font-size="5.2" text-anchor="start" font-style="italic" fill="#000" stroke="#000" stroke-width="0.12" textLength="23.3" lengthAdjust="spacingAndGlyphs">C11orf70</text>
<rect x="215.4" y="366.5" width="6.1" height="4.5" fill="#b9b9b9" stroke="#3c3c3c" stroke-width="0.9"/>
<text x="214" y="376.9" font-size="5.2" text-anchor="start" font-style="italic" fill="#000" stroke="#000" stroke-width="0.12">BIRC3</text>
<rect x="239.5" y="366.5" width="16.5" height="4.5" fill="#b9b9b9" stroke="#3c3c3c" stroke-width="0.9"/>
<text x="240.3" y="376.9" font-size="5.2" text-anchor="start" font-style="italic" fill="#000" stroke="#000" stroke-width="0.12">TMEM123</text>
<rect x="286.5" y="366.5" width="13.8" height="4.5" fill="#b9b9b9" stroke="#3c3c3c" stroke-width="0.9"/>
<text x="286.5" y="376.9" font-size="5.2" text-anchor="start" font-style="italic" fill="#000" stroke="#000" stroke-width="0.12">MMP20</text>
<rect x="336.6" y="366.5" width="3.4" height="4.5" fill="#c6c6c6" stroke="#3c3c3c" stroke-width="0.9"/>
<text x="336.6" y="376.9" font-size="5.2" text-anchor="start" font-style="italic" fill="#000" stroke="#000" stroke-width="0.12">MMP10</text>
<rect x="360" y="366.5" width="4" height="4.5" fill="#c6c6c6" stroke="#3c3c3c" stroke-width="0.9"/>
<text x="360" y="376.9" font-size="5.2" text-anchor="start" font-style="italic" fill="#000" stroke="#000" stroke-width="0.12">MMP12</text>
<rect x="434.6" y="366.5" width="4.8" height="4.5" fill="#c6c6c6" stroke="#3c3c3c" stroke-width="0.9"/>
<text x="434.6" y="376.9" font-size="5.2" text-anchor="start" font-style="italic" fill="#000" stroke="#000" stroke-width="0.12">Q92615</text>
<rect x="315.9" y="378.2" width="4.7" height="4.5" fill="#c6c6c6" stroke="#3c3c3c" stroke-width="0.9"/>
<text x="315.4" y="388.4" font-size="5.2" text-anchor="start" font-style="italic" fill="#000" stroke="#000" stroke-width="0.12">MMP27</text>
<rect x="341.5" y="378.2" width="3.5" height="4.5" fill="#c6c6c6" stroke="#3c3c3c" stroke-width="0.9"/>
<text x="341.5" y="388.4" font-size="5.2" text-anchor="start" font-style="italic" fill="#000" stroke="#000" stroke-width="0.12">MMP1</text>
<rect x="423.2" y="378.2" width="11.2" height="4.5" fill="#b9b9b9" stroke="#3c3c3c" stroke-width="0.9"/>
<text x="423.2" y="388.4" font-size="5.2" text-anchor="start" font-style="italic" fill="#000" stroke="#000" stroke-width="0.12">Q6ZUM6</text>
<line x1="3.6" y1="393.6" x2="498" y2="393.6" stroke="#2a2a2a" stroke-width="1.5"/>
<path d="M0.10000000000000009 396.1L1.8 391.1M2.0 396.1L3.7 391.1" stroke="#000" stroke-width="0.9" fill="none"/>
<path d="M498.1 396.1L499.8 391.1M500.0 396.1L501.7 391.1" stroke="#000" stroke-width="0.9" fill="none"/>
<text x="20" y="400.2" font-size="6.9" text-anchor="middle" fill="#000" stroke="#000" stroke-width="0.15">7</text>
<line x1="3.8" y1="406.7" x2="257.2" y2="406.7" stroke="#2a2a2a" stroke-width="1.5"/>
<text x="27.5" y="413.4" font-size="6.9" text-anchor="middle" fill="#000" stroke="#000" stroke-width="0.15">8</text>
<line x1="17" y1="419.1" x2="498" y2="419.1" stroke="#2a2a2a" stroke-width="1.5"/>
<path d="M498.1 421.6L499.8 416.6M500.0 421.6L501.7 416.6" stroke="#000" stroke-width="0.9" fill="none"/>
<text x="31.2" y="426.3" font-size="6.9" text-anchor="middle" fill="#000" stroke="#000" stroke-width="0.15">1</text>
<line x1="20.6" y1="431.8" x2="498" y2="431.8" stroke="#2a2a2a" stroke-width="1.5"/>
<path d="M498.1 434.3L499.8 429.3M500.0 434.3L501.7 429.3" stroke="#000" stroke-width="0.9" fill="none"/>
<text x="32.8" y="439.3" font-size="6.9" text-anchor="middle" fill="#000" stroke="#000" stroke-width="0.15">9</text>
</svg>
</body></html>
